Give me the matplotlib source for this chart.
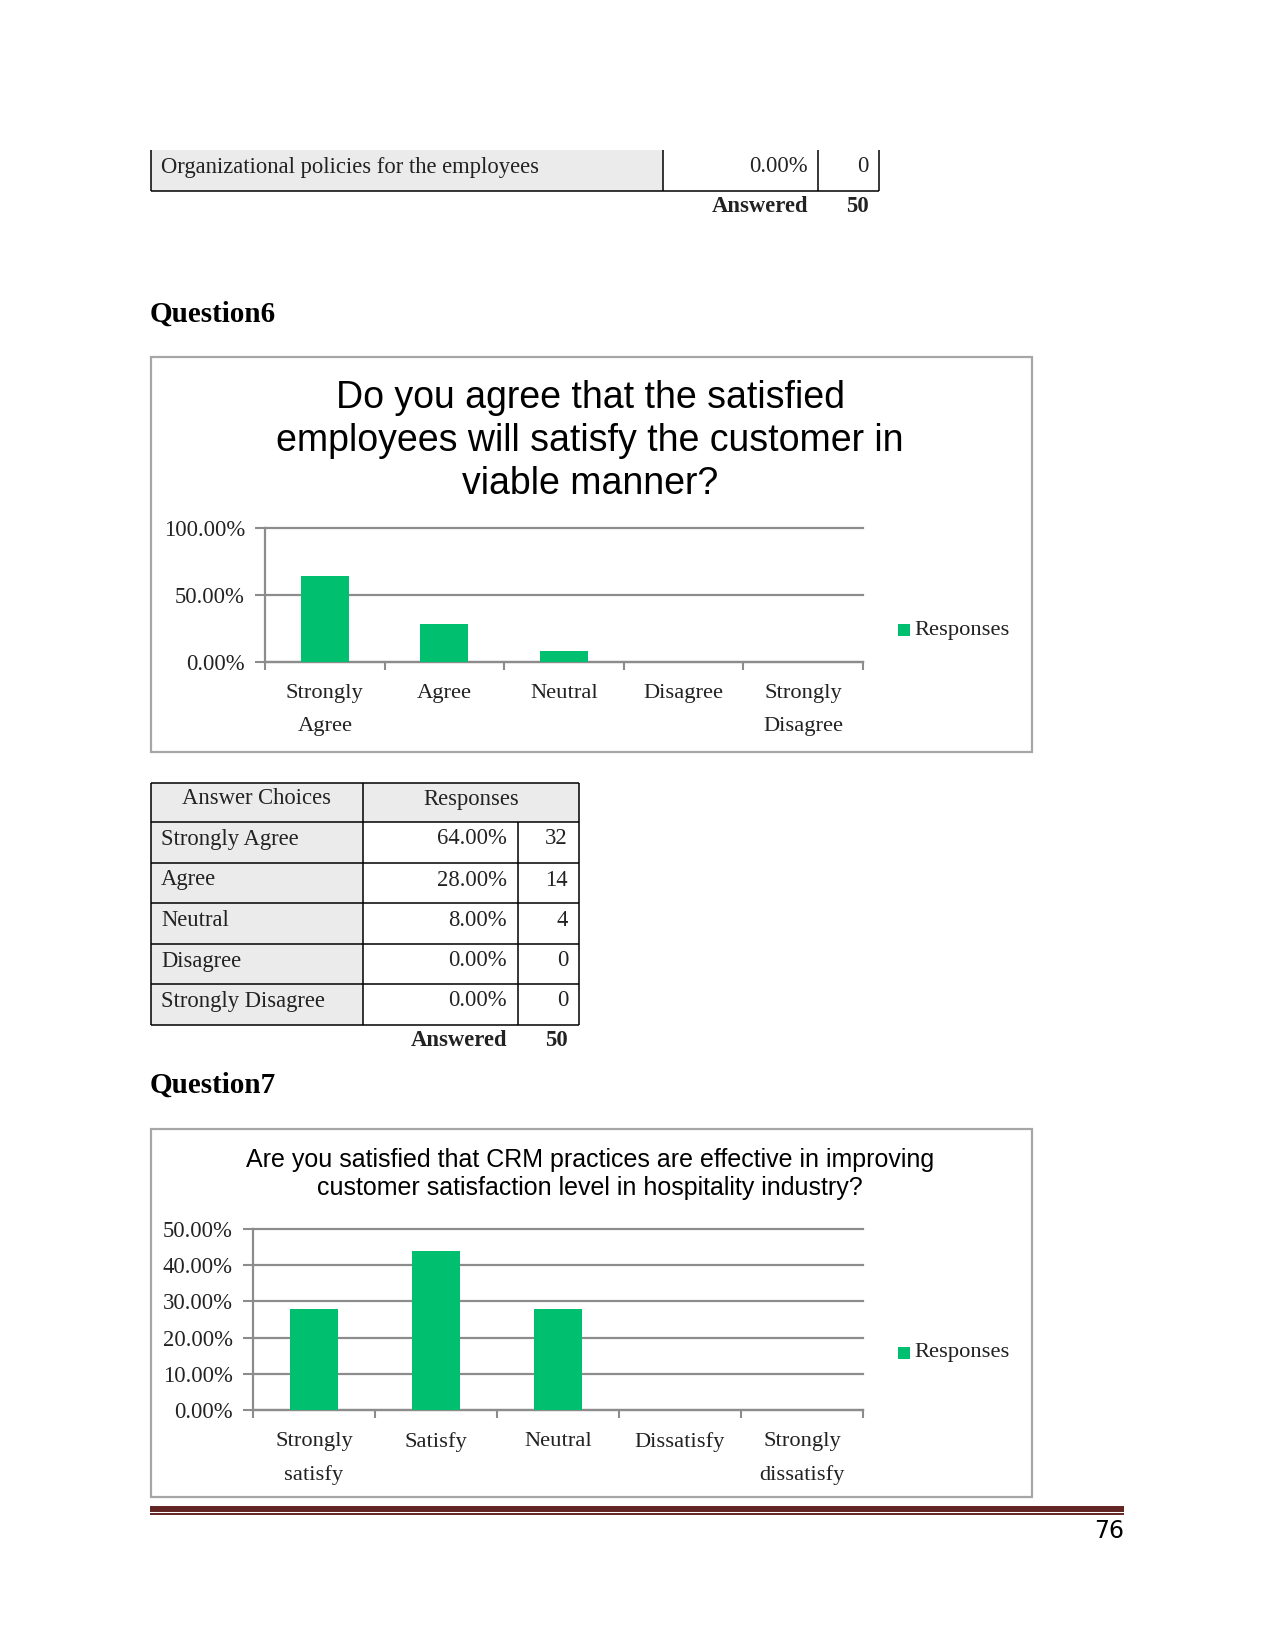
import matplotlib
matplotlib.use("Agg")
import matplotlib.pyplot as plt
from matplotlib.patches import Rectangle

# ---- data ----
prev_choice = "Organizational policies for the employees"
prev_pct = 0.0
prev_count = 0
answered = 50

q6_title = "Do you agree that the satisfied\nemployees will satisfy the customer in\nviable manner?"
q6_labels = ["Strongly\nAgree", "Agree", "Neutral", "Disagree", "Strongly\nDisagree"]
q6_pct = [64, 28, 8, 0, 0]
q6_yticks = [0, 50, 100]

q6_choices = ["Strongly Agree", "Agree", "Neutral", "Disagree", "Strongly Disagree"]
q6_table_pct = [64.0, 28.0, 8.0, 0.0, 0.0]
q6_table_count = [32, 14, 4, 0, 0]

q7_title = ("Are you satisfied that CRM practices are effective in improving\n"
            "customer satisfaction level in hospitality industry?")
q7_labels = ["Strongly\nsatisfy", "Satisfy", "Neutral", "Dissatisfy", "Strongly\ndissatisfy"]
q7_pct = [28, 44, 28, 0, 0]
q7_yticks = [0, 10, 20, 30, 40, 50]

W, H = 1275, 1651
GREEN = "#00BF6F"
GRID = "#8c8c8c"
CELL = "#ebebeb"
SERIF = "Liberation Serif"
SANS = "Liberation Sans"

fig = plt.figure(figsize=(W / 100, H / 100), dpi=100)

# background axes in page pixels
bg = fig.add_axes([0, 0, 1, 1])
bg.set_xlim(0, W)
bg.set_ylim(H, 0)
bg.axis("off")


def line(x0, y0, x1, y1, color="black", lw=1.1):
    bg.plot([x0, x1], [y0, y1], color=color, lw=lw, solid_capstyle="butt")


def txt(x, y, s, ha="left", size=16.3, weight="normal", family=SERIF, color="#222222"):
    bg.text(x, y, s, ha=ha, va="center", fontsize=size, fontweight=weight,
            family=family, color=color)


# ---- tail of previous table ----
xl, xd1, xd2, xr = 151, 663, 818, 879
bg.add_patch(Rectangle((xl, 150), xd1 - xl, 191 - 150, color=CELL, lw=0))
for x in (xl, xd1, xd2, xr):
    line(x, 150, x, 191)
line(xl, 191, xr, 191)
txt(161, 167, prev_choice)
txt(808, 167, f"{prev_pct:.2f}%", ha="right")
txt(869, 167, str(prev_count), ha="right")
txt(808, 206, "Answered", ha="right", weight="bold")
txt(869, 206, str(answered), ha="right", weight="bold")

# ---- headings ----
txt(150, 314, "Question6", size=21, weight="bold", color="black")
txt(150, 1085, "Question7", size=21, weight="bold", color="black")

# ---- chart boxes ----
for (y0, y1) in ((357, 752), (1129, 1497)):
    bg.add_patch(Rectangle((151, y0), 1032 - 151, y1 - y0, fill=False,
                           ec="#a6a6a6", lw=1.6))


def bar_chart(left, right, top, bottom, pct, labels, yticks, legend_y):
    ax = fig.add_axes([left / W, 1 - bottom / H, (right - left) / W, (bottom - top) / H])
    ax.set_facecolor("none")
    x = range(len(pct))
    ax.bar(x, pct, width=0.40, color=GREEN, zorder=3)
    ax.set_xlim(-0.5, len(pct) - 0.5)
    ax.set_ylim(yticks[0], yticks[-1])
    ax.set_yticks(yticks)
    ax.set_yticklabels([f"{v:.2f}%" for v in yticks], family=SERIF, fontsize=16.3,
                       color="#222222")
    ax.yaxis.grid(True, color=GRID, lw=1.6)
    for gl in ax.get_ygridlines():
        gl.set_clip_on(False)
    ax.set_xticks(list(x))
    ax.set_xticklabels(labels, family=SERIF, fontsize=16.2, color="#222222",
                       linespacing=1.95)
    ax.set_xticks([i - 0.5 for i in range(len(pct) + 1)], minor=True)
    ax.tick_params(axis="x", which="major", length=0, pad=16)
    ax.tick_params(axis="x", which="minor", length=6, width=1.5, color=GRID)
    ax.tick_params(axis="y", length=7, width=1.5, color=GRID, pad=7.5)
    for s in ("top", "right"):
        ax.spines[s].set_visible(False)
    for s in ("left", "bottom"):
        ax.spines[s].set_color(GRID)
        ax.spines[s].set_linewidth(1.6)
    ax.set_axisbelow(True)
    # legend entry
    bg.add_patch(Rectangle((898, legend_y - 6), 12, 12, color=GREEN, lw=0))
    txt(914, legend_y, "Responses", size=16.2)
    return ax


# ---- Question 6 chart ----
bg.text(590, 441, q6_title, ha="center", va="center", fontsize=27,
        family=SANS, color="black", linespacing=1.26)
bar_chart(265, 863, 528, 662, q6_pct, q6_labels, q6_yticks, 630)

# ---- Question 6 table ----
cx = [151, 363, 518, 579]
ry = [783, 822, 863, 903, 944, 984, 1025]
bg.add_patch(Rectangle((cx[0], ry[0]), cx[3] - cx[0], ry[1] - ry[0], color=CELL, lw=0))
bg.add_patch(Rectangle((cx[0], ry[1]), cx[1] - cx[0], ry[-1] - ry[1], color=CELL, lw=0))
for y in ry:
    line(cx[0], y, cx[3], y)
for x in (cx[0], cx[1], cx[3]):
    line(x, ry[0], x, ry[-1])
line(cx[2], ry[1], cx[2], ry[-1])
txt((cx[0] + cx[1]) / 2, 799, "Answer Choices", ha="center")
txt((cx[1] + cx[3]) / 2, 799, "Responses", ha="center")
for i, (c, p, n) in enumerate(zip(q6_choices, q6_table_pct, q6_table_count)):
    yc = ry[i + 1] + 17
    txt(161, yc, c)
    txt(507, yc, f"{p:.2f}%", ha="right")
    txt(568, yc, str(n), ha="right")
txt(507, 1041, "Answered", ha="right", weight="bold")
txt(568, 1041, str(answered), ha="right", weight="bold")

# ---- Question 7 chart ----
bg.text(590, 1174, q7_title, ha="center", va="center", fontsize=18,
        family=SANS, color="black", linespacing=1.25)
bar_chart(253, 863, 1229, 1410, q7_pct, q7_labels, q7_yticks, 1353)

# ---- footer rule and page number ----
line(150, 1509, 1124, 1509, color="#632523", lw=4.3)
line(150, 1514.5, 1124, 1514.5, color="#632523", lw=1.4)
bg.text(1124, 1531, "76", ha="right", va="center", fontsize=17,
        family="DejaVu Sans", color="black")

fig.savefig("out.png", dpi=100)
